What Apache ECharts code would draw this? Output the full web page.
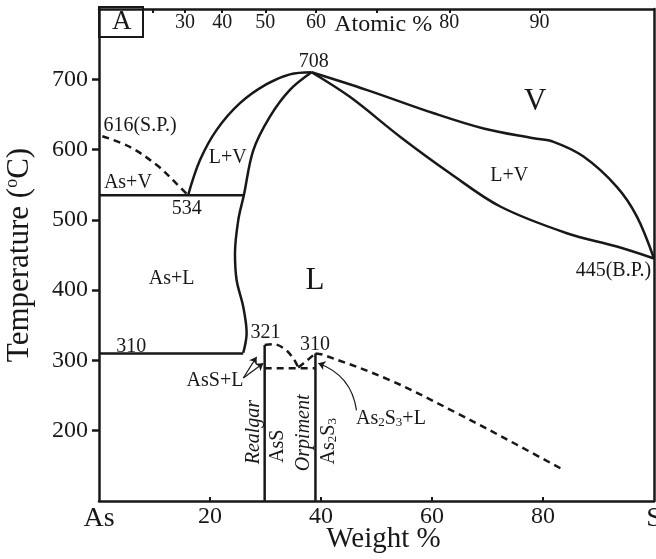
<!DOCTYPE html>
<html>
<head>
<meta charset="utf-8">
<script src="https://cdn.jsdelivr.net/npm/echarts@6/dist/echarts.min.js"></script>
<style>html,body{margin:0;padding:0;background:#fff}#chart{width:656px;height:559px}</style>
</head>
<body>
<div id="chart"></div>
<script>
// ---- data (weight % S, temperature °C) ----
const weightTicks = [0, 20, 40, 60, 80, 100];
const weightTickNames = ['As', '20', '40', '60', '80', 'S'];
const tempTicks = [200, 300, 400, 500, 600, 700];
const atomicTicks = [20, 30, 40, 50, 60, 70, 80, 90];
const atomicLabels = [30, 40, 50, 60, 80, 90];

const vaporCurve = [[38.3,710],[48.2,685],[60.2,652],[69.3,630],[78.3,616],[81.9,611],[87.3,590],[93.3,547],[96.9,505],[100,445]];
const liquidRight = [[38.3,710],[45.2,675],[54.3,618],[63.3,566],[72.3,519],[84.3,481],[93.3,462],[100,445]];
const vaporLeft = [[16.05,535],[18.2,585],[21.2,628],[25.4,666],[30.2,693],[34.4,707],[38.3,710]];
const liquidLeft = [[38.3,710],[34.4,685],[30.8,647],[27.8,599],[26.1,535],[25.1,500],[24.5,452],[24.8,414],[26.0,376],[26.6,339],[26.0,311]];
const eutectic534 = [[0,535],[26.1,535]];
const monotectic310 = [[0,310],[26.0,310]];
const sublimationCurve = [[0.6,619],[5.5,604],[10.4,578],[13.9,552],[16.05,535]];
const realgarLine = [[29.85,100],[29.85,322]];
const orpimentLine = [[39.0,100],[39.0,310]];
const realgarDome = [[29.85,322],[31.5,323],[33.5,316],[35.0,303],[35.9,290]];
const orpimentLiquidus = [[35.9,290],[37.5,300],[39.0,310]];
const eutectic289 = [[29.85,289],[39.0,289]];
const sulfurLiquidus = [[39.0,310],[40.4,308],[52.4,272],[64.5,225],[75.3,180],[83.5,145]];

// annotations: [text, weight %, temperature, kind]
const annotations = [
  ['708', 38.7, 725, 'n'],
  ['616(S.P.)', 7.4, 634, 'n'],
  ['L+V', 23.2, 589, 'n'],
  ['As+V', 5.2, 553, 'n'],
  ['534', 15.8, 516, 'n'],
  ['As+L', 13.1, 416, 'n'],
  ['310', 5.8, 320, 'n'],
  ['321', 30.0, 339, 'n'],
  ['310', 38.9, 323, 'n'],
  ['AsS+L', 20.9, 271, 'n'],
  ['As{sub|2}S{sub|3}+L', 52.6, 217, 'n'],
  ['L+V', 73.9, 563, 'n'],
  ['V', 78.6, 668, 'big'],
  ['L', 38.9, 413, 'big'],
  ['445(B.P.)', 92.7, 427, 'n'],
  ['Realgar', 27.9, 198, 'rotItalic'],
  ['AsS', 32.2, 178, 'rot'],
  ['Orpiment', 36.9, 197, 'rotItalic'],
  ['As{sub|2}S{sub|3}', 41.4, 185, 'rot'],
  ['Atomic %', 51.2, 778, 'atomic']
];
// arrows: [from, to, curveness]
const arrows = [
  [[26.0, 275], [28.4, 305], 0],
  [[26.0, 275], [29.6, 296], 0],
  [[46.4, 229], [39.5, 296], -0.3]
];

// ---- helpers ----
const AS = 74.92, S = 32.06;
function atomicToWeight(a) { return 100 * a * S / (a * S + (100 - a) * AS); }
function weightToAtomic(w) { return 100 * (w / S) / (w / S + (100 - w) / AS); }

const ink = '#1a1718';
const font = 'Liberation Serif';
const subRich = {
  sub: { fontSize: 13, fontFamily: font, color: ink, verticalAlign: 'bottom', lineHeight: 14, padding: [8, 0, 0, 0] }
};

function lineSeries(data, dashed) {
  return {
    type: 'line', data: data, showSymbol: false, symbol: 'none', smooth: data.length > 2 ? 0.35 : false,
    lineStyle: { color: ink, width: 2.5, type: dashed ? [7, 5] : 'solid', cap: 'butt' },
    silent: true, z: 3, animation: false
  };
}

const styleFor = {
  n: { fontSize: 20, fontStyle: 'normal', rotate: 0 },
  big: { fontSize: 31, fontStyle: 'normal', rotate: 0 },
  rot: { fontSize: 20, fontStyle: 'normal', rotate: 90 },
  rotItalic: { fontSize: 20, fontStyle: 'italic', rotate: 90 },
  atomic: { fontSize: 24, fontStyle: 'normal', rotate: 0 }
};

const labelData = annotations.map(a => {
  const st = styleFor[a[3]];
  return {
    value: [a[1], a[2]],
    label: {
      show: true, position: 'inside', formatter: a[0], rotate: st.rotate,
      fontSize: st.fontSize, fontStyle: st.fontStyle, fontFamily: font, color: ink, opacity: 1,
      align: 'center', verticalAlign: 'middle', rich: subRich
    }
  };
});

const series = [
  lineSeries(vaporCurve), lineSeries(liquidRight), lineSeries(vaporLeft), lineSeries(liquidLeft),
  lineSeries(eutectic534), lineSeries(monotectic310), lineSeries(realgarLine), lineSeries(orpimentLine),
  lineSeries(sublimationCurve, true), lineSeries(realgarDome, true), lineSeries(orpimentLiquidus, true),
  lineSeries(eutectic289, true), lineSeries(sulfurLiquidus, true),
  {
    type: 'scatter', data: labelData, symbolSize: 0, silent: true, z: 5, animation: false,
    itemStyle: { opacity: 1 }
  },
  {
    type: 'lines', coordinateSystem: 'cartesian2d', silent: true, animation: false, z: 4,
    symbol: ['none', 'arrow'], symbolSize: 7,
    data: arrows.map(a => ({ coords: [a[0], a[1]], lineStyle: { curveness: a[2] } })),
    lineStyle: { color: ink, width: 1.2, opacity: 1 }
  }
];

const chart = echarts.init(document.getElementById('chart'), null, { renderer: 'canvas' });
chart.setOption({
  animation: false,
  backgroundColor: '#fff',
  title: {
    text: 'A', left: 99, top: 7, padding: [1, 12, 1, 13],
    borderWidth: 2, borderColor: ink,
    textStyle: { fontSize: 27, fontFamily: font, fontWeight: 'normal', color: ink, lineHeight: 28 }
  },
  grid: { left: 99, right: 2, top: 9, bottom: 58, containLabel: false, outerBoundsMode: 'none' },
  xAxis: [
    {
      type: 'value', position: 'bottom', min: 0, max: 100, interval: 20,
      axisLine: { show: true, onZero: false, lineStyle: { color: ink, width: 2.5 } },
      axisTick: { show: true, inside: true, length: 4, customValues: [20, 40, 60, 80], lineStyle: { color: ink, width: 2 } },
      axisLabel: {
        customValues: weightTicks, margin: 4, fontSize: 24, fontFamily: font, color: ink,
        formatter: v => { const i = weightTicks.indexOf(v); const t = weightTickNames[i]; return (t === 'As' || t === 'S') ? '{big|' + t + '}' : t; },
        rich: { big: { fontSize: 28, fontFamily: font, color: ink } }
      },
      splitLine: { show: false },
      name: 'Weight %', nameLocation: 'middle', nameGap: 24, nameMoveOverlap: false,
      nameTextStyle: { fontSize: 29, fontFamily: font, color: ink, padding: [0, 0, 0, 14] }
    },
    {
      type: 'value', position: 'top', min: 0, max: 100,
      axisLine: { show: true, onZero: false, lineStyle: { color: ink, width: 2.5 } },
      axisTick: { show: true, inside: true, length: 4, customValues: atomicTicks.map(atomicToWeight), lineStyle: { color: ink, width: 2 } },
      axisLabel: {
        inside: true, margin: 4, fontSize: 20, fontFamily: font, color: ink,
        customValues: atomicLabels.map(atomicToWeight),
        formatter: v => String(Math.round(weightToAtomic(v)))
      },
      splitLine: { show: false }
    }
  ],
  yAxis: [
    {
      type: 'value', position: 'left', min: 100, max: 800, interval: 100,
      axisLine: { show: true, onZero: false, lineStyle: { color: ink, width: 2.5 } },
      axisTick: { show: true, inside: false, length: 7, customValues: tempTicks, lineStyle: { color: ink, width: 2.5 } },
      axisLabel: { customValues: tempTicks, margin: 11, fontSize: 24, fontFamily: font, color: ink },
      splitLine: { show: false },
      name: 'Temperature ({sup|o}C)', nameLocation: 'middle', nameGap: 62, nameMoveOverlap: false,
      nameTextStyle: {
        fontSize: 31, fontFamily: font, color: ink, lineHeight: 34, padding: [0, 0, 0, 0],
        rich: { sup: { fontSize: 18, fontFamily: font, color: ink, verticalAlign: 'top', lineHeight: 18, padding: [0, 0, 12, 0] } }
      }
    },
    {
      type: 'value', position: 'right', min: 100, max: 800,
      axisLine: { show: true, onZero: false, lineStyle: { color: ink, width: 2.5 } },
      axisTick: { show: false }, axisLabel: { show: false }, splitLine: { show: false }
    }
  ],
  series: series
});
</script>
</body>
</html>
